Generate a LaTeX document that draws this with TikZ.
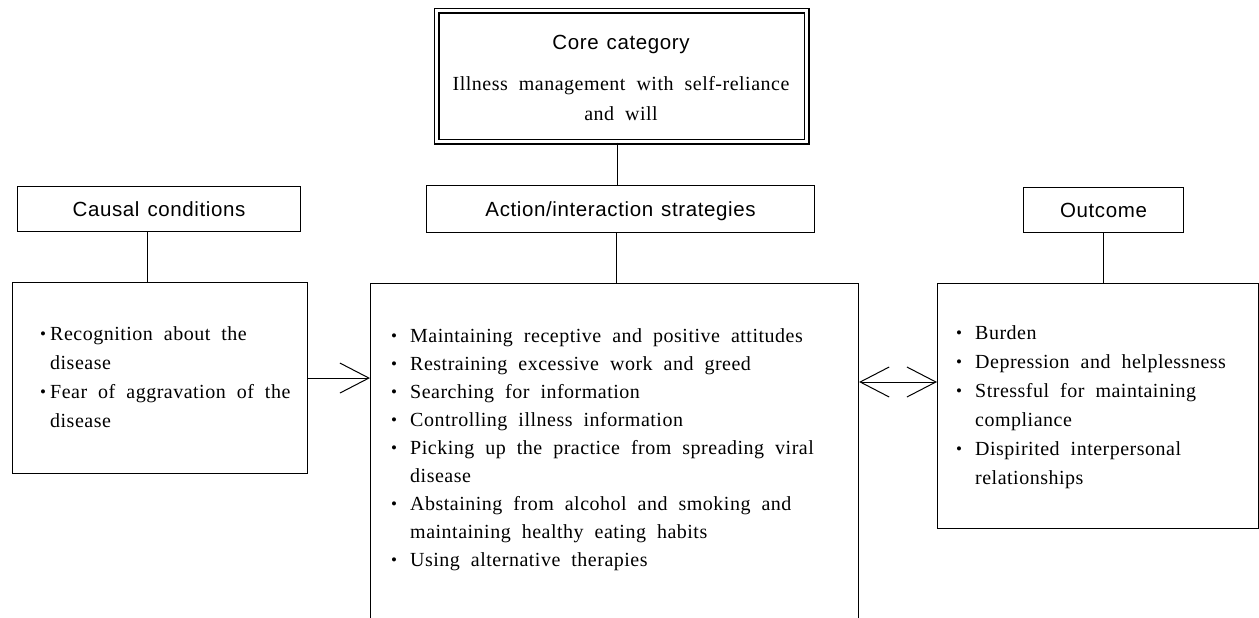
\documentclass[tikz,border=0pt]{standalone}
\usepackage{fontspec}
\setmainfont{Liberation Serif}
\newfontfamily\bodyfont[LetterSpace=2.5]{Liberation Serif}
\newfontfamily\headfont[LetterSpace=3]{Liberation Sans}
\usetikzlibrary{arrows.meta}
\newcommand{\hfnt}{\headfont\fontsize{20.5}{24}\selectfont\spaceskip=8pt plus 2pt minus 1pt\relax}
\newcommand{\bfntA}{\bodyfont\fontsize{20}{29}\selectfont\spaceskip=11pt plus 2pt minus 1pt\relax}
\newcommand{\bfntB}{\bodyfont\fontsize{20}{28}\selectfont\spaceskip=11pt plus 2pt minus 1pt\relax}
\newcommand{\bfntC}{\bodyfont\fontsize{20}{30}\selectfont\spaceskip=11pt plus 2pt minus 1pt\relax}
\newcommand{\bl}[1]{\makebox[#1][l]{\raisebox{1.2pt}{\fontsize{17}{17}\selectfont •}}}
\tikzset{
  hbox/.style={draw, line width=1.1pt, minimum height=45pt, anchor=north west, inner sep=0pt,
    font=\hfnt, text height=15pt, text depth=0pt},
  bigbox/.style={draw, line width=1.1pt, anchor=north west, inner sep=0pt},
  lst/.style={anchor=north west, inner sep=0pt, align=left},
  link/.style={line width=1pt},
  arr/.style={line width=1pt, -{Straight Barb[length=29pt,width=30pt]}},
  darr/.style={line width=1pt, {Straight Barb[length=29pt,width=30pt]}-{Straight Barb[length=29pt,width=30pt]}},
  corebox/.style={draw, double, double distance=3pt, line width=1.6pt, anchor=north west, inner sep=0pt}
}
\begin{document}
\begin{tikzpicture}[x=1pt,y=-1pt]
\useasboundingbox (0,0) rectangle (1259,618);
% core category
\node[corebox, minimum width=369.8pt, minimum height=130.8pt] (core) at (436.1,10.1) {};
\node[anchor=base, inner sep=0pt, font=\hfnt] (coretitle) at (621,50) {Core category};
\node[anchor=north, inner sep=0pt, align=center, font=\bfntC] (coretext) at (621,69)
  {\strut Illness management with self-reliance\\and will};
% header boxes
\node[hbox, minimum width=283pt] (causal) at (17,186) {Causal conditions};
\node[hbox, minimum width=388pt, minimum height=47pt] (act) at (426,185) {Action/interaction strategies};
\node[hbox, minimum width=160pt] (outcome) at (1023,187) {Outcome};
% big boxes
\node[bigbox, minimum width=295pt, minimum height=191pt] (L) at (12,282) {};
\node[bigbox, minimum width=488pt, minimum height=360pt] (M) at (370,283) {};
\node[bigbox, minimum width=321pt, minimum height=245pt] (R) at (937,283) {};
% lists
\node[lst, font=\bfntA] (Ltext) at (40,319.7)
  {\strut\bl{10pt}Recognition about the\\
   \hspace*{10pt}disease\\
   \bl{10pt}Fear of aggravation of the\\
   \hspace*{10pt}disease};
\node[lst, font=\bfntB] (Mtext) at (391,322.4)
  {\strut\bl{19pt}Maintaining receptive and positive attitudes\\
   \bl{19pt}Restraining excessive work and greed\\
   \bl{19pt}Searching for information\\
   \bl{19pt}Controlling illness information\\
   \bl{19pt}Picking up the practice from spreading viral\\
   \hspace*{19pt}disease\\
   \bl{19pt}Abstaining from alcohol and smoking and\\
   \hspace*{19pt}maintaining healthy eating habits\\
   \bl{19pt}Using alternative therapies};
\node[lst, font=\bfntA] (Rtext) at (956,318.7)
  {\strut\bl{19pt}Burden\\
   \bl{19pt}Depression and helplessness\\
   \bl{19pt}Stressful for maintaining\\
   \hspace*{19pt}compliance\\
   \bl{19pt}Dispirited interpersonal\\
   \hspace*{19pt}relationships};
% connectors
\draw[link] ([xshift=-4pt]core.south) -- ([xshift=-4pt]core.south |- act.north);
\draw[link] ([xshift=-4pt]act.south) -- ([xshift=-4pt]act.south |- M.north);
\draw[link] ([xshift=-11.5pt]causal.south) -- ([xshift=-11.5pt]causal.south |- L.north);
\draw[link] (outcome.south) -- (outcome.south |- R.north);
\draw[arr] (L.east) -- (L.east -| M.west);
\coordinate (dy) at (0,382);
\draw[darr] (M.east |- dy) -- (R.west |- dy);
\end{tikzpicture}
\end{document}
